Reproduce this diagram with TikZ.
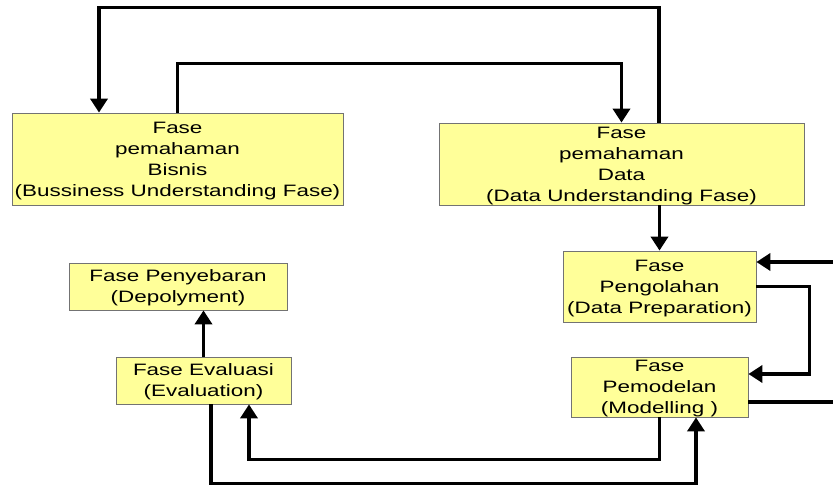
\documentclass[tikz,border=0pt]{standalone}
\usepackage{fontspec}
\setmainfont{Liberation Sans}[FakeStretch=1.36]
\usetikzlibrary{arrows.meta}
\definecolor{faseyellow}{RGB}{255,255,153}
\begin{document}
\begin{tikzpicture}[x=1pt,y=-1pt,
  fase/.style={draw=black!55,fill=faseyellow,line width=0.8pt,inner sep=0pt,
    align=center,text depth=-1.5pt,font=\fontsize{16.5}{21}\selectfont},
  conn/.style={line width=3.6pt,-{Triangle[length=14pt,width=17pt]}},
  plain/.style={line width=3.6pt}]
  \useasboundingbox (0,0) rectangle (833,486);
  % phase boxes
  \node[fase,minimum width=331pt,minimum height=92pt] (bisnis) at (177.5,159)
    {Fase\\pemahaman\\Bisnis\\(Bussiness Understanding Fase)};
  \node[fase,minimum width=365pt,minimum height=82pt] (data) at (621.5,164)
    {Fase\\pemahaman\\Data\\(Data Understanding Fase)};
  \node[fase,minimum width=193pt,minimum height=71pt] (olah) at (659.5,286.5)
    {Fase\\Pengolahan\\(Data Preparation)};
  \node[fase,minimum width=177pt,minimum height=60pt] (model) at (659.5,387)
    {Fase\\Pemodelan\\(Modelling )};
  \node[fase,minimum width=175pt,minimum height=47pt] (evaluasi) at (203.5,380.5)
    {Fase Evaluasi\\(Evaluation)};
  \node[fase,minimum width=218pt,minimum height=47pt] (sebar) at (178,286.5)
    {Fase Penyebaran\\(Depolyment)};
  % loose ends at the right border
  \coordinate (inR) at (833,262);
  \coordinate (outR) at (833,402);
  % connectors
  \draw[conn] (bisnis.north) -- ++(0,-49) -| (data.north);
  \draw[conn] ([xshift=37.5pt]data.north) -- ++(0,-115) -| ([xshift=-78.5pt]bisnis.north);
  \draw[conn] (data.south -| olah.north) -- (olah.north);
  \draw[conn] (inR) -- (inR -| olah.east);
  \draw[conn] (olah.east) -- ++(53,0) |- ([yshift=13pt]model.east);
  \draw[plain] ([yshift=-15pt]model.east) -- (outR);
  \draw[conn] (model.south) -- ++(0,42) -| ([xshift=45.5pt]evaluasi.south);
  \draw[conn] ([xshift=7.5pt]evaluasi.south) -- ++(0,79) -| ([xshift=36.5pt]model.south);
  \draw[conn] (evaluasi.north) -- (evaluasi.north |- sebar.south);
\end{tikzpicture}
\end{document}
